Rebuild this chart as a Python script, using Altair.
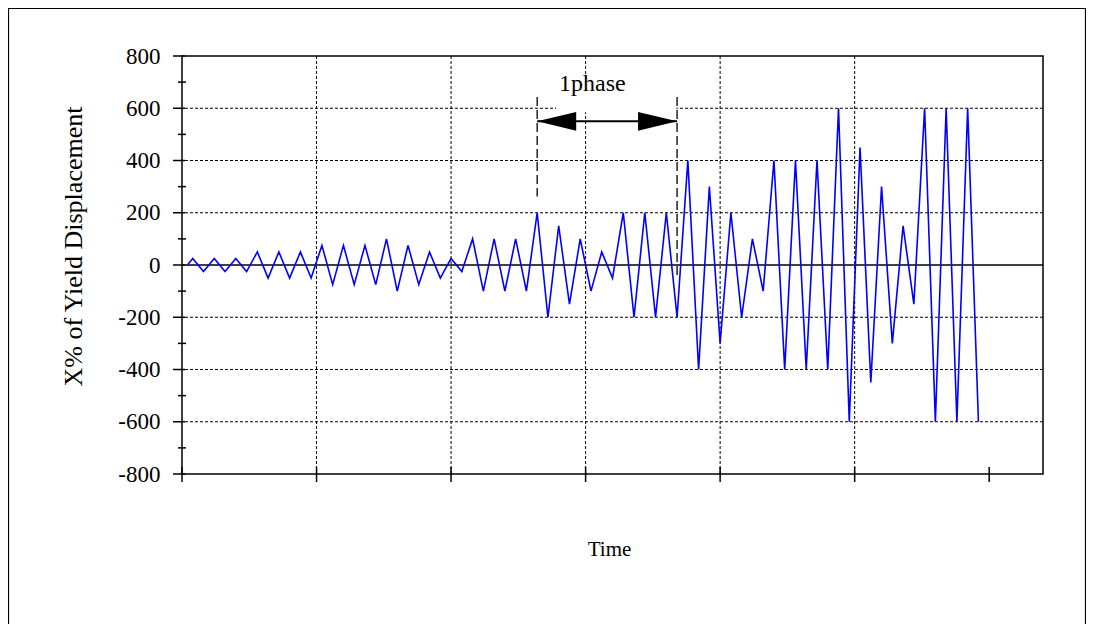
import altair as alt
import pandas as pd

# ---- data ----
disp_values = [0,
    25, -25, 25, -25, 25, -25,
    50, -50, 50, -50, 50, -50,
    75, -75, 75, -75, 75, -75,
    100, -100, 75, -75, 50, -50, 25, -25,
    100, -100, 100, -100, 100, -100,
    200, -200, 150, -150, 100, -100, 50, -50,
    200, -200, 200, -200, 200, -200,
    400, -400, 300, -300, 200, -200, 100, -100,
    400, -400, 400, -400, 400, -400,
    600, -600, 450, -450, 300, -300, 150, -150,
    600, -600, 600, -600, 600, -600]
sample_step = 0.08
time_values = [0.04] + [round(sample_step * (i + 1), 4) for i in range(len(disp_values) - 1)]

y_major = [-800, -600, -400, -200, 0, 200, 400, 600, 800]
y_minor = [-700, -500, -300, -100, 100, 300, 500, 700]
y_grid = [-600, -400, -200, 200, 400, 600]
x_major = [0, 1, 2, 3, 4, 5, 6]
x_grid = [1, 2, 3, 4, 5]

phase_start = 2.64
phase_end = 3.68
arrow_level = 550
phase_label = "1phase"

FONT = "Liberation Serif"

df = pd.DataFrame({"time": time_values, "disp": disp_values})

xs = alt.Scale(domain=[0, 6.4], nice=False, zero=False)
ys = alt.Scale(domain=[-800, 800], nice=False, zero=False)

x_axis = alt.Axis(
    title="Time", labels=False, ticks=False, domain=False, grid=False,
    titleFont=FONT, titleFontSize=21, titleFontWeight="normal", titleColor="black",
    titleX=427, titleY=75, titleBaseline="middle", titleAlign="center")
y_axis = alt.Axis(
    title="X% of Yield Displacement", values=y_major, ticks=False, domain=False, grid=False,
    labelExpr="'' + datum.value",
    labelFont=FONT, labelFontSize=23, labelColor="black", labelPadding=22,
    titleFont=FONT, titleFontSize=26, titleFontWeight="normal", titleColor="black",
    titleX=-109, titleY=190, titleBaseline="middle", titleAngle=-90, titleAlign="center")

X = lambda f: alt.X(f, scale=xs, axis=x_axis)
Y = lambda f: alt.Y(f, scale=ys, axis=y_axis)

# grid lines (dotted)
hgrid = alt.Chart(pd.DataFrame({"v": y_grid})).mark_rule(
    color="black", strokeWidth=1, strokeDash=[3, 2]
).encode(y=Y("v:Q"))
vgrid = alt.Chart(pd.DataFrame({"t": x_grid})).mark_rule(
    color="black", strokeWidth=1, strokeDash=[3, 2]
).encode(x=X("t:Q"))

# white box behind the label
label_box = alt.Chart(pd.DataFrame({"a": [2.78], "b": [3.675], "lo": [585], "hi": [700]})).mark_rect(
    color="white"
).encode(x=X("a:Q"), x2="b:Q", y=Y("lo:Q"), y2="hi:Q")

zero = alt.Chart(pd.DataFrame({"v": [0]})).mark_rule(color="black", strokeWidth=1.6).encode(y=Y("v:Q"))

# crossing ticks
ytick_major = alt.Chart(pd.DataFrame({"v": y_major})).mark_rule(color="black", strokeWidth=1.5).encode(
    y=Y("v:Q"), x=alt.value(-9), x2=alt.value(3))
ytick_minor = alt.Chart(pd.DataFrame({"v": y_minor})).mark_rule(color="black", strokeWidth=1.5).encode(
    y=Y("v:Q"), x=alt.value(-4), x2=alt.value(4))
xtick_major = alt.Chart(pd.DataFrame({"t": x_major})).mark_rule(color="black", strokeWidth=1.5).encode(
    x=X("t:Q"), y=alt.value(411), y2=alt.value(426))

# signal
line = alt.Chart(df).mark_line(color="#0000ff", strokeWidth=1.6).encode(
    x=X("time:Q"), y=Y("disp:Q"))

# phase annotation
phase_lines = alt.Chart(pd.DataFrame({"t": [phase_start, phase_end], "top": [643, 643], "bot": [262, -38]})).mark_rule(
    color="black", strokeWidth=1.3, strokeDash=[9, 4]
).encode(x=X("t:Q"), y=Y("top:Q"), y2="bot:Q")

shaft = alt.Chart(pd.DataFrame({"a": [phase_start], "b": [phase_end], "v": [arrow_level]})).mark_rule(
    color="black", strokeWidth=2).encode(x=X("a:Q"), x2="b:Q", y=Y("v:Q"))

head_df = pd.DataFrame({
    "t": [phase_start, 2.93, 3.39, phase_end],
    "lo": [arrow_level, arrow_level - 36, arrow_level - 36, arrow_level],
    "hi": [arrow_level, arrow_level + 36, arrow_level + 36, arrow_level],
    "side": ["L", "L", "R", "R"],
})
heads = alt.Chart(head_df).mark_area(color="black", opacity=1).encode(
    x=X("t:Q"), y=Y("lo:Q"), y2="hi:Q", detail="side:N")

label = alt.Chart(pd.DataFrame({"t": [3.05], "v": [666], "s": [phase_label]})).mark_text(
    font=FONT, fontSize=24, color="black", baseline="alphabetic", align="center"
).encode(x=X("t:Q"), y=Y("v:Q"), text="s:N")

# outer frame (its lower edge runs past the bottom of the picture)
frame = alt.Chart(pd.DataFrame({"d": [0]})).mark_rect(
    fill=None, stroke="black", strokeWidth=1.2, clip=False
).encode(x=alt.value(-173.5), x2=alt.value(903.5), y=alt.value(-47.5), y2=alt.value(600))

chart = alt.layer(
    hgrid, vgrid, label_box, zero, line, phase_lines, shaft, heads, label,
    ytick_major, ytick_minor, xtick_major, frame
).properties(
    width=861, height=418,
    autosize=alt.AutoSizeParams(type="none"),
    padding={"left": 174, "top": 48, "right": 43, "bottom": 150},
    background="white",
).configure_view(stroke="black", strokeWidth=1.5)

chart.save("out.html", embed_options={"renderer": "svg", "actions": False})
